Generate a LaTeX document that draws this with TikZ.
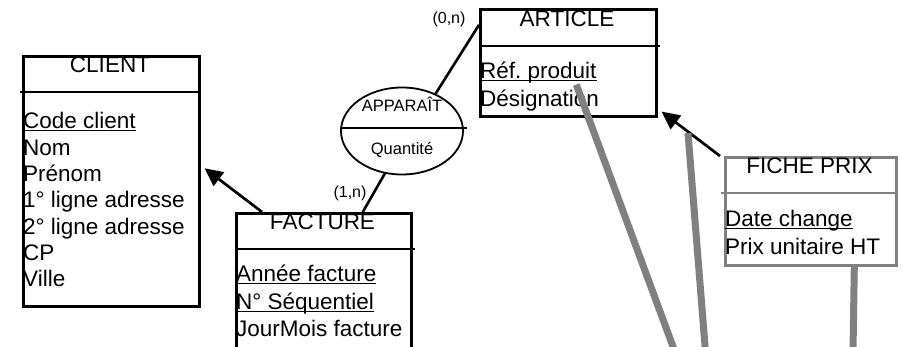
\documentclass[tikz,border=0pt]{standalone}
\usepackage{fontspec}
\setmainfont{Liberation Sans}
\usetikzlibrary{shapes.geometric, arrows.meta}
\definecolor{linkgray}{RGB}{128,128,128}

% underlined identifier
\newcommand{\keyattr}[1]{\setbox0=\hbox{#1}\rlap{\rule[-2.5pt]{\wd0}{1.4pt}}\box0}

\begin{document}
\frenchspacing
\begin{tikzpicture}[x=1pt, y=-1pt, >={Triangle[length=18pt,width=17pt]},
  every node/.style={font=\fontsize{22.5}{27}\selectfont, inner sep=0pt},
  entity/.style={draw, line width=2.6pt, rectangle, anchor=north west},
  pricebox/.style={entity, draw=linkgray},
  entname/.style={anchor=base},
  attr/.style={anchor=base west},
  assoc/.style={draw, ellipse, line width=1.8pt, minimum width=122pt, minimum height=87pt},
  small/.style={font=\fontsize{16.5}{19}\selectfont, anchor=base},
  card/.style={font=\fontsize{16}{19}\selectfont},
  link/.style={line width=2.6pt},
  isa/.style={->, line width=2.7pt},
  grayline/.style={line width=7pt, linkgray}]

\clip (0,0) rectangle (903,347);

% Entity: CLIENT
\node[entity, minimum width=176pt, minimum height=250pt] (client) at (22,55) {};
\node[entname] (clientT) at (110,73) {CLIENT};
\draw[line width=2.6pt] ([xshift=-2pt,yshift=-37pt]client.north west) -- ([yshift=-37pt]client.north east);
\foreach \t [count=\i from 0] in {\keyattr{Code client}, Nom, Prénom, 1° ligne adresse, 2° ligne adresse, CP, Ville}
  \node[attr] (client\i) at (23,129+26.3*\i) {\t};

% Entity: FACTURE
\node[entity, minimum width=175pt, minimum height=150pt] (facture) at (235,212) {};
\node[entname] (factureT) at (322.5,230) {FACTURE};
\draw[line width=2.6pt] ([yshift=-37pt]facture.north west) -- ([xshift=2pt,yshift=-37pt]facture.north east);
\foreach \t [count=\i from 0] in {\keyattr{Année facture}, \keyattr{N° Séquentiel}, JourMois facture}
  \node[attr] (facture\i) at (236,282+27.5*\i) {\t};

% Entity: ARTICLE
\node[entity, minimum width=176pt, minimum height=107pt] (article) at (479,8) {};
\node[entname] (articleT) at (567,27) {ARTICLE};
\draw[line width=2.6pt] ([yshift=-38pt]article.north west) -- ([xshift=2pt,yshift=-38pt]article.north east);
\node[attr] (article0) at (480,79) {\keyattr{Réf. produit}};
\node[attr] (article1) at (480,107) {Désignation};

% Entity: FICHE PRIX
\node[pricebox, minimum width=171pt, minimum height=108pt] (fiche) at (724,156) {};
\node[entname] (ficheT) at (809.5,174) {FICHE PRIX};
\draw[line width=2.6pt, linkgray] ([xshift=-3pt,yshift=-37pt]fiche.north west) -- ([yshift=-37pt]fiche.north east);
\node[attr] (fiche0) at (725,227) {\keyattr{Date change}};
\node[attr] (fiche1) at (725,255) {Prix unitaire HT};

% Association APPARAIT
\node[assoc] (apparait) at (402,131) {};
\draw[line width=1.8pt] ([yshift=3pt]apparait.west) -- ([xshift=3pt,yshift=3pt]apparait.east);
\node[small] (apparaitT) at (402,112) {APPARAÎT};
\node[small] (apparaitQ) at (402,155) {Quantité};

% Cardinalities
\node[card] (cardA) at (449,19) {(0,n)};
\node[card] (cardF) at (350,193) {(1,n)};

% Links
\draw[link] (apparait.48) -- (article.157);
\draw[link] (apparait.248) -- ([xshift=39pt]facture.north);
\draw[isa] ([xshift=27pt]facture.north west) -- ([xshift=4pt,yshift=13pt]client.east);
\draw[isa] ([xshift=-4pt]fiche.north west) -- ([xshift=4pt,yshift=6pt]article.south east);

% Gray lines leaving the picture
\coordinate (g1end) at (675,352);
\coordinate (g2top) at (688,133);
\coordinate (g2end) at (705.5,352);
\coordinate (g3end) at (853,352);
\draw[grayline] ([xshift=8pt,yshift=33pt]article.south) -- (g1end);
\draw[grayline] (g2top) -- (g2end);
\draw[grayline] ([xshift=43.5pt]fiche.south) -- (g3end);
\end{tikzpicture}
\end{document}
